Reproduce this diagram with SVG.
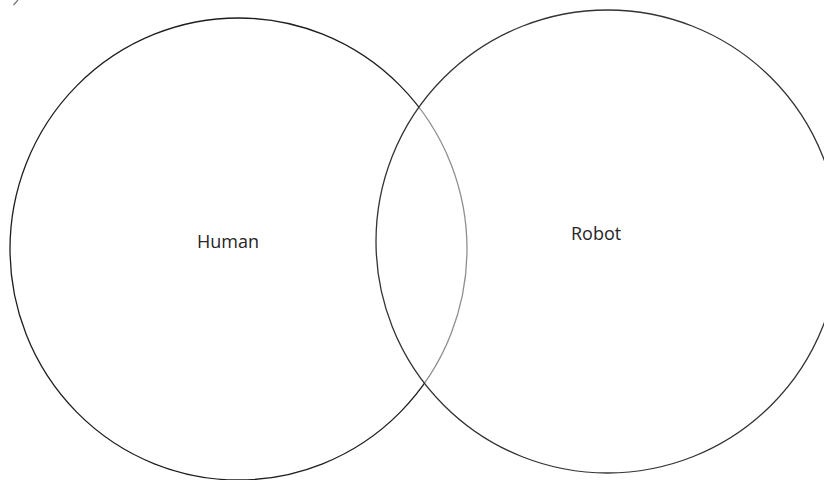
<svg xmlns="http://www.w3.org/2000/svg" width="824" height="480" viewBox="0 0 824 480">
<style>
.lbl{font-family:"Open Sans","Liberation Sans",sans-serif;font-size:18px;fill:#262626}
.c{stroke-width:1.3}
</style>
<rect width="824" height="480" fill="#fff"/>
<line x1="13.5" y1="5" x2="18" y2="0" stroke="#777" stroke-width="1.3"/>
<g id="human">
<ellipse class="c" cx="238.5" cy="249" rx="228.5" ry="231" fill="none" stroke="#1e1e1e"/>
<text class="lbl" x="197" y="248">Human</text>
</g>
<g id="robot">
<circle class="c" cx="607.5" cy="241.5" r="231.5" fill="#fff" fill-opacity="0.5" stroke="#333"/>
<text class="lbl" x="571" y="240">Robot</text>
</g>
<g id="connectors"/>
</svg>
